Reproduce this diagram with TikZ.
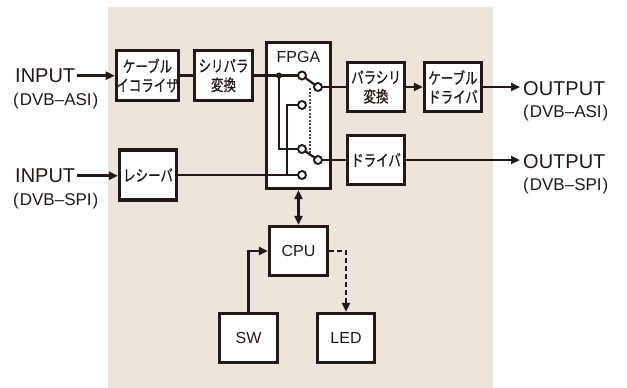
\documentclass[tikz,border=0pt]{standalone}
\usepackage{fontspec}
\setmainfont{Liberation Sans}
\newfontfamily\jp[FakeStretch=0.78,FakeBold=0.6]{Noto Sans CJK JP}
\usetikzlibrary{arrows.meta}
\pgfdeclarelayer{bgl}
\pgfdeclarelayer{wl}
\pgfsetlayers{bgl,wl,main}
\definecolor{ink}{RGB}{35,24,21}
\definecolor{bg}{RGB}{236,229,219}
\begin{document}
\begin{tikzpicture}[x=1pt,y=-1pt,
 box/.style={draw=ink, line width=3.2pt, fill=white, inner sep=0pt, align=center, text=ink},
 jbox/.style={box, font=\jp\fontsize{16}{19}\selectfont, minimum width=57pt, minimum height=49pt},
 lbox/.style={box, font=\fontsize{16}{19}\selectfont, minimum width=57pt, minimum height=49pt},
 wire/.style={draw=ink, line width=2.6pt},
 tip/.tip={Triangle[length=9pt,width=8pt]},
 arr/.style={wire, -tip},
 contact/.style={circle, draw=ink, line width=1.9pt, fill=white, minimum size=8pt, inner sep=0pt},
 dot/.style={circle, fill=ink, minimum size=6pt, inner sep=0pt},
 lbl/.style={text=ink, inner sep=0pt, font=\fontsize{20}{24}\selectfont},
 sublbl/.style={text=ink, inner sep=0pt, font=\fontsize{17}{20}\selectfont},
]
\useasboundingbox (0,0) rectangle (627,388);

% boxes
\node[jbox, minimum width=58pt, minimum height=50pt] (eq) at (147.5,75.5) {ケーブル\\イコライザ};
\node[jbox, minimum width=58pt, minimum height=50pt] (sp) at (223.5,75.5) {シリパラ\\変換};
\node[box, fill=none, minimum width=64pt, minimum height=146pt] (fpga) at (298.5,115.5) {};
\node[text=ink, inner sep=0pt, anchor=base, font=\fontsize{16}{19}\selectfont] (fpgal) at (298.5,62.5) {FPGA};
\node[jbox] (ps) at (376,87) {パラシリ\\変換};
\node[jbox] (cd) at (453,87) {ケーブル\\ドライバ};
\node[jbox] (drv) at (376,160) {ドライバ};
\node[jbox, minimum height=50pt] (rcv) at (148,175) {レシーバ};
\node[lbox, minimum width=58pt] (cpu) at (298.5,251) {CPU};
\node[lbox, minimum width=58pt] (sw) at (248.5,338) {SW};
\node[lbox] (led) at (346,338) {LED};

% labels
\node[lbl, anchor=base west] (in1) at (15,82.5) {INPUT};
\node[sublbl, anchor=base west] (in1s) at (13,105) {(\kern1pt DVB–ASI\kern1pt)};
\node[lbl, anchor=base west] (in2) at (15,182.5) {INPUT};
\node[sublbl, anchor=base west] (in2s) at (13,205) {(\kern1pt DVB–SPI\kern1pt)};
\node[lbl, anchor=base west] (out1) at (523,95) {OUTPUT};
\node[sublbl, anchor=base west] (out1s) at (523,117) {(\kern1pt DVB–ASI\kern1pt)};
\node[lbl, anchor=base west] (out2) at (523,168) {OUTPUT};
\node[sublbl, anchor=base west] (out2s) at (523,190) {(\kern1pt DVB–SPI\kern1pt)};

% switch contacts
\node[contact] (a1) at (302,75.5) {};
\node[contact] (a2) at (302,105) {};
\node[contact] (ao) at (318,87) {};
\node[contact] (b1) at (302,149) {};
\node[contact] (b2) at (302,175) {};
\node[contact] (bo) at (318,160) {};
\node[dot] (j) at (279,75.5) {};
\coordinate (k) at (287,175);
\coordinate (d1) at (310,88);
\coordinate (d2) at (310,155);

\begin{pgfonlayer}{bgl}
\fill[bg] (108,7) rectangle (493,388);
\fill[white] (fpga.south west) rectangle (fpga.north east);
\end{pgfonlayer}

\begin{pgfonlayer}{wl}
\draw[arr, shorten <=2pt] (in1.east) -- (in1.east -| eq.west);
\draw[arr, shorten <=2pt] (in2.east) -- (in2.east -| rcv.west);
\draw[wire] (eq.east) -- (sp.west);
\draw[wire] (sp.east) -- (a1.center);
\draw[wire] (j.center) |- (b1.center);
\draw[wire] (a2.center) -| (k);
\draw[wire] (rcv.east) -- (b2.center);
\draw[wire, line width=2.2pt] (a1.center) -- (ao.center);
\draw[wire, line width=2.2pt] (b1.center) -- (bo.center);
\draw[ink!80, line width=1.3pt, dash pattern=on 2pt off 1.5pt] (d1) -- (d2);
\draw[wire] (ao.center) -- (ps.west);
\draw[wire] (bo.center) -- (drv.west);
\draw[arr] (ps.east) -- (cd.west);
\draw[arr, shorten >=3pt] (cd.east) -- (cd.east -| out1.west);
\draw[arr, shorten >=3pt] (drv.east) -- (drv.east -| out2.west);
\draw[wire, tip-tip] (fpga.south) -- (cpu.north);
\draw[arr] (sw.north) |- (cpu.west);
\draw[arr, dash pattern=on 5pt off 3pt] (cpu.east) -| (led.north);
\end{pgfonlayer}
\end{tikzpicture}
\end{document}
